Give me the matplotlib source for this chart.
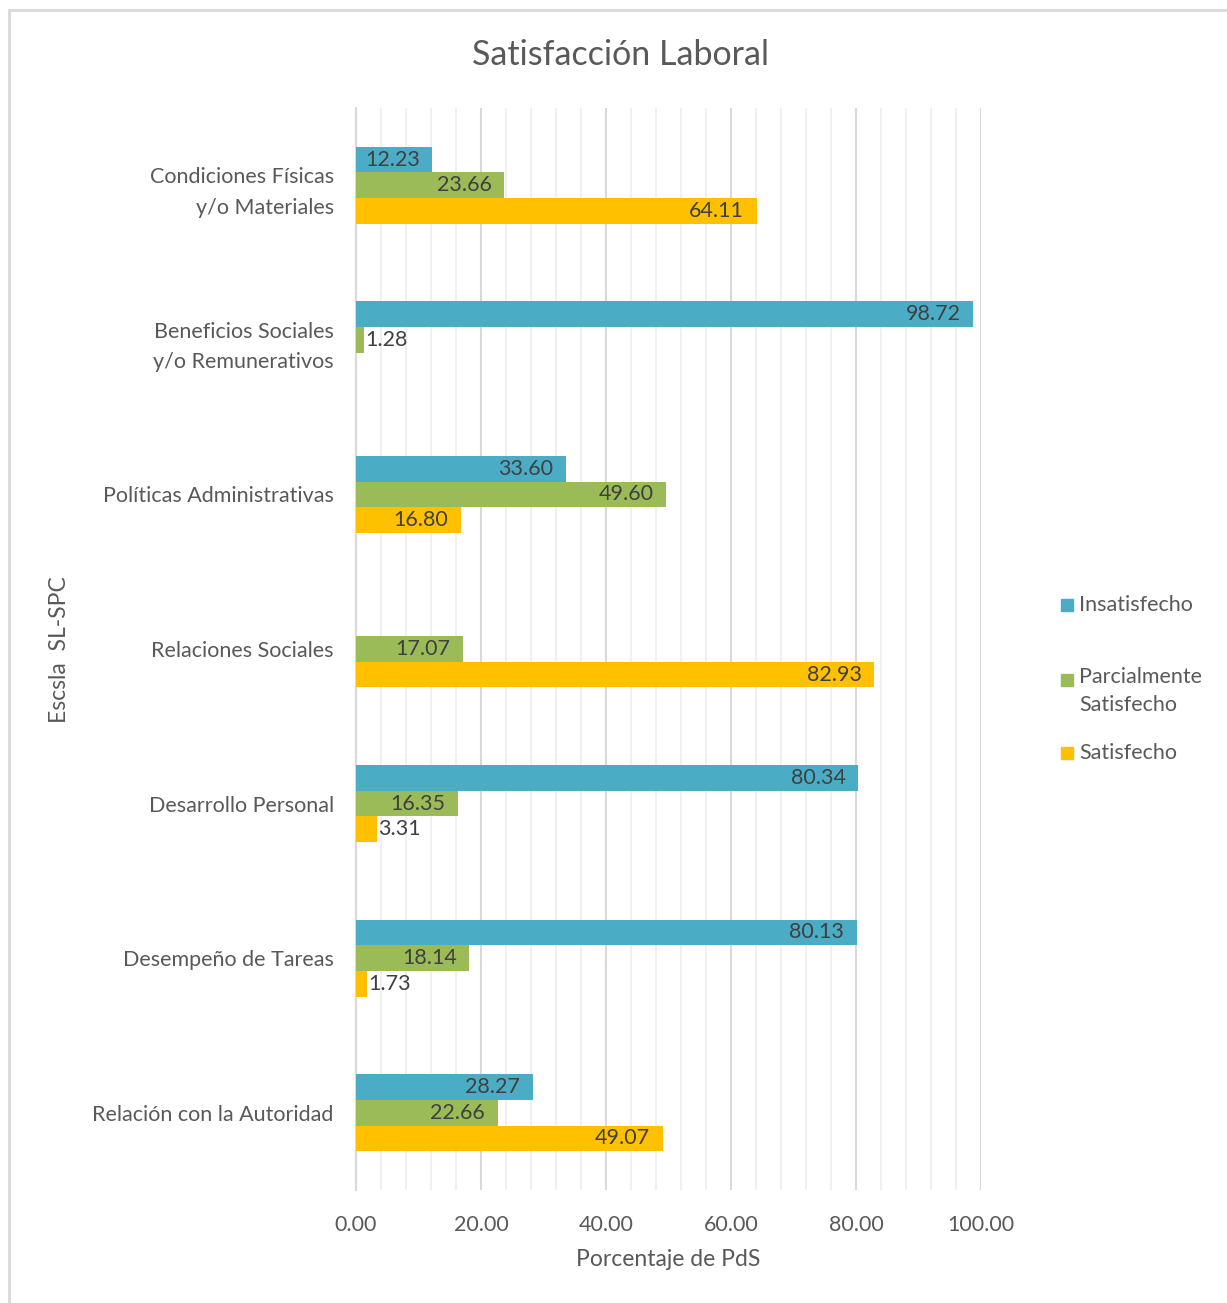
import numpy as np
import matplotlib
matplotlib.use("Agg")
from matplotlib import pyplot as plt
from matplotlib.patches import Rectangle
from matplotlib.ticker import MultipleLocator

plt.rcParams['font.family'] = ['Lato', 'DejaVu Sans']

# datos (de abajo hacia arriba)
categorias = ['Relación con la Autoridad', 'Desempeño de Tareas', 'Desarrollo Personal',
              'Relaciones Sociales', 'Políticas Administrativas',
              'Beneficios Sociales\ny/o Remunerativos', 'Condiciones Físicas\ny/o Materiales']
insatisfecho = [28.27, 80.13, 80.34, np.nan, 33.60, 98.72, 12.23]
parcial = [22.66, 18.14, 16.35, 17.07, 49.60, 1.28, 23.66]
satisfecho = [49.07, 1.73, 3.31, 82.93, 16.80, np.nan, 64.11]
series = ['Insatisfecho', 'Parcialmente\nSatisfecho', 'Satisfecho']
colores = ['#4BACC6', '#9BBB59', '#FFC000']

gris = '#595959'
W, H = 1227, 1303
fig = plt.figure(figsize=(W / 100, H / 100), dpi=100)
ax = fig.add_axes([356 / W, 1 - 1190 / H, (981 - 356) / W, (1190 - 108) / H])

y = np.arange(len(categorias))
h = 0.166
offsets = [h, 0, -h]
for vals, col, off in zip([insatisfecho, parcial, satisfecho], colores, offsets):
    for yi, v in zip(y, vals):
        if np.isnan(v):
            continue
        ax.barh(yi + off, v, height=h, color=col, zorder=3)
        # etiquetas: dentro al final, o fuera si la barra es muy corta
        if v < 5:
            ax.annotate('%.2f' % v, (v, yi + off), xytext=(1, 0), textcoords='offset points',
                        ha='left', va='center', fontsize=15.5, color='#404040', zorder=4)
        else:
            ax.annotate('%.2f' % v, (v, yi + off), xytext=(-9, 0), textcoords='offset points',
                        ha='right', va='center', fontsize=15.5, color='#404040', zorder=4)

ax.set_xlim(0, 100)
ax.set_ylim(-0.5, 6.5)
ax.xaxis.set_major_locator(MultipleLocator(20))
ax.xaxis.set_minor_locator(MultipleLocator(4))
ax.grid(which='major', axis='x', color='#d9d9d9', linewidth=1.5, zorder=1)
ax.grid(which='minor', axis='x', color='#f0f0f0', linewidth=1.5, zorder=0)
ax.set_axisbelow(True)
for s in ['top', 'right', 'bottom']:
    ax.spines[s].set_visible(False)
ax.spines['left'].set_color('#d9d9d9')
ax.spines['left'].set_linewidth(1.5)
ax.tick_params(which='both', length=0)
ax.set_xticks(np.arange(0, 101, 20))
ax.set_xticklabels(['%.2f' % t for t in np.arange(0, 101, 20)], fontsize=15.5, color=gris)
ax.tick_params(axis='x', pad=18)
ax.set_yticks(y)
ax.set_yticklabels(categorias, fontsize=15.5, color=gris, linespacing=1.65)
ax.tick_params(axis='y', pad=16)

fig.text(668 / W, 1 - 1260 / H, 'Porcentaje de PdS', ha='center', va='center', fontsize=16.5, color=gris)
fig.text(60 / W, 1 - 650 / H, 'Escsla  SL-SPC', ha='center', va='center', rotation=90,
         fontsize=16.5, color=gris)
fig.text(621 / W, 1 - 55 / H, 'Satisfacción Laboral', ha='center', va='center', fontsize=24.5, color=gris)

# leyenda
ley_y = [605, 680, 753]
for nombre, col, yy in zip(series, colores, ley_y):
    fig.patches.append(Rectangle((1061 / W, 1 - (yy + 6) / H), 12 / W, 12 / H,
                                 transform=fig.transFigure, color=col))
    if '\n' in nombre:
        fig.text(1079 / W, 1 - (yy - 13) / H, nombre, ha='left', va='top',
                 fontsize=15.5, color=gris, linespacing=1.5)
    else:
        fig.text(1079 / W, 1 - yy / H, nombre, ha='left', va='center', fontsize=15.5, color=gris)

# marco del grafico
fig.patches.append(Rectangle((9 / W, -0.1), 1.2, 1 - 10 / H + 0.1, transform=fig.transFigure,
                             fill=False, edgecolor='#d9d9d9', linewidth=2))

fig.savefig('out.png', dpi=100)
